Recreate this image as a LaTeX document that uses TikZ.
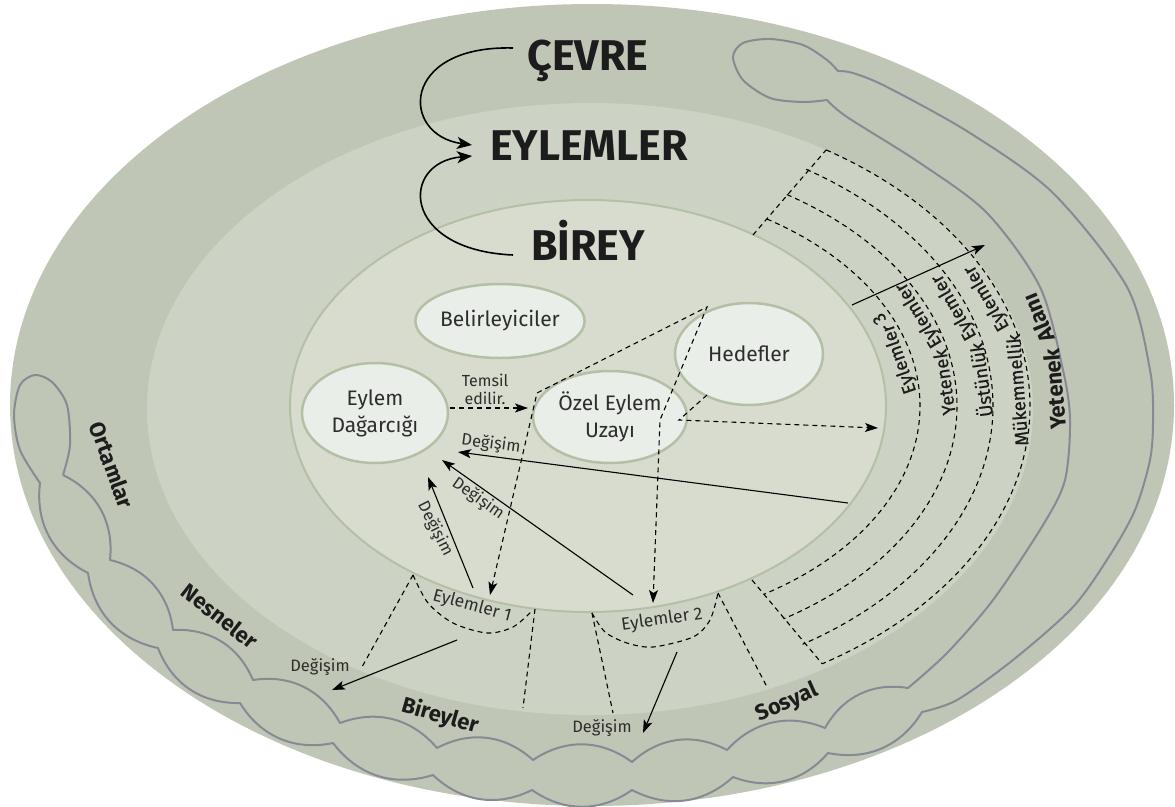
\documentclass[tikz,border=0pt]{standalone}
\usepackage{fontspec}
\setmainfont{Fira Sans}
\newfontfamily\ringfam[FakeBold=0.5]{Fira Sans}
\usetikzlibrary{arrows.meta,calc,shapes.geometric}
\definecolor{bandA}{RGB}{192,198,181}
\definecolor{bandB}{RGB}{205,211,196}
\definecolor{bandC}{RGB}{216,220,206}
\definecolor{nodefill}{RGB}{233,238,232}
\definecolor{nodeline}{RGB}{180,192,166}
\definecolor{cloudline}{RGB}{135,138,148}
\definecolor{ink}{RGB}{28,28,28}
\definecolor{txt}{RGB}{45,45,45}
\begin{document}
\begin{tikzpicture}[x=1pt,y=-1pt,
  every node/.style={inner sep=0pt, outer sep=0pt},
  title/.style={font=\fontsize{43}{48}\selectfont\bfseries, text=ink, anchor=base},
  idea/.style={ellipse, draw=nodeline, line width=2.5pt, fill=nodefill, text=txt, align=center, font=\fontsize{21}{27}\selectfont},
  lbl/.style={font=\fontsize{16.5}{18}\selectfont, text=txt, align=center},
  ringw/.style={font=\ringfam\fontsize{18.5}{22}\selectfont, text=ink},
  zone/.style={font=\fontsize{22}{26}\selectfont\bfseries, text=ink},
  dsh/.style={dash pattern=on 5pt off 4pt, line width=1.1pt, draw=black},
  tip/.style={-{Stealth[length=13pt,width=9pt,inset=3pt]}},
  bigtip/.style={-{Stealth[length=15pt,width=12pt,inset=4pt]}},
  sol/.style={line width=1.1pt, draw=black},
  cloud/.style={draw=cloudline, line width=2pt, line join=round},
]
\fill[white] (0,0) rectangle (1175,806);
\useasboundingbox (0,0) rectangle (1175,806);

% bands
\fill[bandA] (592,405) ellipse [x radius=582pt, y radius=401pt];
\fill[bandB] (590,409) ellipse [x radius=443pt, y radius=306pt];
\filldraw[fill=bandC, draw=nodeline, line width=2pt] (588,406) ellipse [x radius=298pt, y radius=206pt];

% cloud outline (Ortamlar ... Yetenek Alani)
\draw[cloud]
  plot[smooth] coordinates {(63,475) (70,445) (67,405) (52,382) (35,375) (20,385) (14,415) (20,450) (40,483)}
  to[bend right=35] (88,573) to[bend right=35] (158,648) to[bend right=35] (240,703)
  to[bend right=35] (333,743) to[bend right=35] (433,775) to[bend right=35] (532,790)
  to[bend right=35] (632,790) to[bend right=35] (733,777) to[bend right=35] (828,753)
  to[bend right=35] (922,712)
  -- plot[smooth] coordinates {(922,712) (957,700) (1013,660) (1073,607) (1110,555) (1135,510) (1150,460) (1153,420) (1150,370) (1127,287) (1053,193) (970,133) (887,87) (853,73) (838,71)}
  -- plot[smooth] coordinates {(838,71) (827,60) (803,45) (770,39) (743,43) (733,57) (743,80) (770,98) (803,102) (827,100)}
  -- plot[smooth] coordinates {(827,100) (847,117) (920,163) (987,213) (1040,287) (1063,370) (1070,420) (1065,480) (1043,525) (993,600) (947,653) (908,688)}
  to[bend right=35] (825,728) to[bend right=35] (727,750) to[bend right=35] (632,762)
  to[bend right=35] (533,760) to[bend right=35] (437,748) to[bend right=35] (340,723)
  to[bend right=35] (253,680) to[bend right=35] (173,630) to[bend right=35] (110,560)
  to[bend right=35] (63,475);

% ring arcs
\foreach \rx/\ry in {332/222,369/251,405/281,442/304}{
  \draw[dsh] plot[domain=-57.4:58,samples=80,smooth] ({588+\rx*cos(\x)},{406+\ry*sin(\x)});
}
\coordinate (tt1) at (753,235);
\coordinate (tt4) at ({588+442*cos(-57.4)},{406+304*sin(-57.4)});
\coordinate (bb1) at (752,580);
\coordinate (bb4) at ({588+442*cos(58)},{406+304*sin(58)});
\draw[dsh] (tt1) -- (tt4);
\draw[dsh] (bb1) -- (bb4);

% Eylemler 1 / 2 wedges
\draw[dsh] plot[smooth] coordinates {(413,575) (428,603) (453,623) (487,633) (513,627) (533,610)};
\draw[dsh] plot[smooth] coordinates {(592,613) (605,632) (627,643) (653,647) (693,637) (710,620) (718,593)};
\coordinate (w1a) at (413,575); \coordinate (w1b) at (362,667);
\coordinate (w2a) at (535,609); \coordinate (w2b) at (523,708);
\coordinate (w3a) at (592,613); \coordinate (w3b) at (613,713);
\coordinate (w4a) at (718,593); \coordinate (w4b) at (767,687);
\draw[dsh] (w1a) -- (w1b);
\draw[dsh] (w2a) -- (w2b);
\draw[dsh] (w3a) -- (w3b);
\draw[dsh] (w4a) -- (w4b);

% idea nodes
\node[idea, minimum width=146pt, minimum height=74pt] (bel) at (500,321) {Belirleyiciler};
\node[idea, minimum width=146pt, minimum height=100pt] (dag) at (375,413) {Eylem\\Dağarcığı};
\node[idea, minimum width=154pt, minimum height=92pt] (ozel) at (610,417) {Özel Eylem\\Uzayı};
\node[idea, minimum width=148pt, minimum height=102pt] (hed) at (749,354) {Hedefler};

% titles
\node[title] (cev) at (588,70) {ÇEVRE};
\node[title] (eyl) at (589,160) {EYLEMLER};
\node[title] (bir) at (588,260) {BİREY};
\coordinate (c1) at (513,48); \coordinate (c2) at (472,145);
\coordinate (c3) at (513,255); \coordinate (c4) at (472,156);
\draw[sol, line width=1.6pt, bigtip] (c1) .. controls (400,45) and (400,135) .. (c2);
\draw[sol, line width=1.6pt, bigtip] (c3) .. controls (400,250) and (400,162) .. (c4);

% dashed connectors
\coordinate (d1) at (450,408); \coordinate (d2) at (528,408);
\draw[dsh, tip] (d1) -- (d2);
\coordinate (q1) at (490,595); \coordinate (q2) at (537,393); \coordinate (q3) at (707,307);
\coordinate (q4) at (660,420); \coordinate (q5) at (653,603);
\draw[dsh, {Stealth[length=13pt,width=9pt,inset=3pt]}-{Stealth[length=13pt,width=9pt,inset=3pt]}] (q1) -- (q2) -- (q3) -- (q4) -- (q5);
\coordinate (h1) at (707,395); \coordinate (h2) at (679,420); \coordinate (h3) at (878,428);
\draw[dsh, tip] (h1) -- (h2) -- (h3);

% solid arrows
\coordinate (s1a) at (848,503); \coordinate (s1b) at (458,452);
\coordinate (s2a) at (633,595); \coordinate (s2b) at (442,460);
\coordinate (s3a) at (473,588); \coordinate (s3b) at (428,477);
\coordinate (s4a) at (457,640); \coordinate (s4b) at (332,690);
\coordinate (s5a) at (677,652); \coordinate (s5b) at (643,733);
\coordinate (s6a) at (852,305); \coordinate (s6b) at (985,245);
\draw[sol, tip] (s1a) -- (s1b);
\draw[sol, tip] (s2a) -- (s2b);
\draw[sol, tip] (s3a) -- (s3b);
\draw[sol, tip] (s4a) -- (s4b);
\draw[sol, tip] (s5a) -- (s5b);
\draw[sol, tip] (s6a) -- (s6b);

% labels
\node[lbl, font=\fontsize{16}{18}\selectfont] (temsil) at (485,389) {Temsil\\edilir.};
\node[lbl, rotate=-7.5] (dg1) at (491,444) {Değişim};
\node[lbl, rotate=-35] (dg2) at (478,499) {Değişim};
\node[lbl, rotate=-63] (dg3) at (435,529) {Değişim};
\node[lbl] (dg4) at (320,667) {Değişim};
\node[lbl] (dg5) at (602,728) {Değişim};
\node[lbl, font=\fontsize{17.5}{20}\selectfont, rotate=-15] (ey1) at (472,606) {Eylemler 1};
\node[lbl, font=\fontsize{17.5}{20}\selectfont, rotate=8] (ey2) at (662,620) {Eylemler 2};

% ring labels, word by word along the arcs
\node[ringw, rotate=109.2] (r3a) at (899.8,358.8) {Eylemler};
\node[ringw, rotate=124.5] (r3b) at (879.2,318.9) {3};
\node[ringw, rotate=98.4] (rya) at (944.2,382.2) {Yetenek};
\node[ringw, rotate=121.2] (ryb) at (919.2,314.9) {Eylemler};
\node[ringw, rotate=97.9] (rua) at (980.0,380.0) {Üstünlük};
\node[ringw, rotate=119.7] (rub) at (954.4,307.1) {Eylemler};
\node[ringw, rotate=94.5] (rma) at (1017.0,390.0) {Mükemmellik};
\node[ringw, rotate=120.1] (rmb) at (987.0,298.0) {Eylemler};
\node[zone, rotate=94.7] (yaa) at (1055.0,389.0) {Yetenek};
\node[zone, rotate=112.2] (yab) at (1038.0,318.0) {Alanı};

% outer zone labels
\node[zone, rotate=-70] (ort) at (112,465) {Ortamlar};
\node[zone, rotate=-38] (nes) at (220,616) {Nesneler};
\node[zone, rotate=-16] (bry) at (440,716) {Bireyler};
\node[zone, rotate=24] (sos) at (787,703) {Sosyal};
\end{tikzpicture}
\end{document}
